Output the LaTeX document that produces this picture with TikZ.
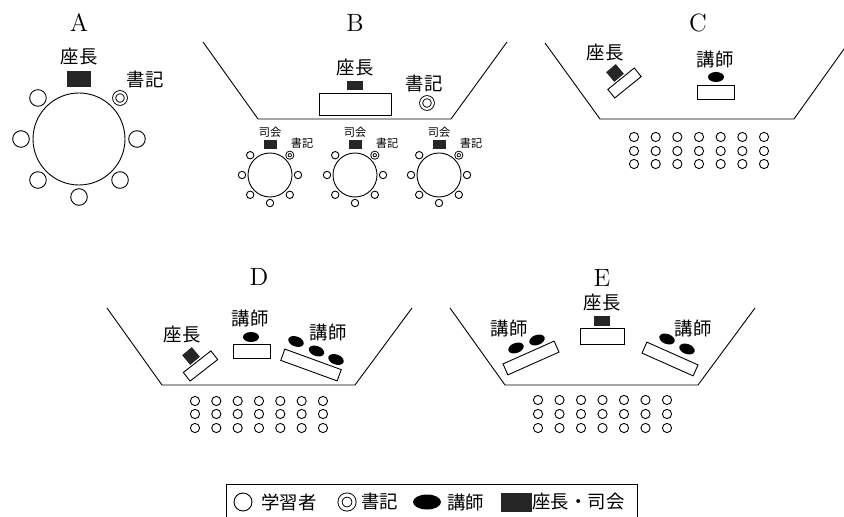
\documentclass[tikz,border=0pt]{standalone}
\usepackage{fontspec}
\newfontfamily\jp{Noto Sans CJK JP}
\usepackage{tikz}
\usetikzlibrary{shapes.geometric}
\usetikzlibrary{positioning}
\usetikzlibrary{calc}

\tikzset{
    seat/.style={circle, draw, inner sep=0pt, minimum size=8.3pt},
    sseat/.style={circle, draw, inner sep=0pt, minimum size=3.7pt},
    hseat/.style={circle, draw, inner sep=0pt, minimum size=4.6pt},
    clerk/.style={circle, draw, double, double distance=1.1pt, inner sep=0pt, minimum size=5.8pt},
    sclerk/.style={circle, draw, double, double distance=0.6pt, inner sep=0pt, minimum size=2.9pt},
    chair/.style={fill=black!85, inner sep=0pt},
    desk/.style={draw, fill=white, inner sep=0pt},
    lect/.style={ellipse, fill=black, inner sep=0pt, minimum width=8pt, minimum height=5pt},
    lbl/.style={inner sep=0pt, font=\jp\fontsize{9.2}{10}\selectfont},
    slbl/.style={inner sep=0pt, font=\jp\fontsize{5.6}{6}\selectfont},
    ttl/.style={inner sep=0pt, font=\fontsize{12.5}{14}\selectfont},
}

\begin{document}
\begin{tikzpicture}[x=0.5pt, y=-0.5pt, line width=0.45pt]
    \useasboundingbox (0,0) rectangle (844,517);
    \clip (0,0) rectangle (844,517);

    % A
    \node[ttl] (tA) at (79,23) {A};
    \node[circle, draw, inner sep=0pt, minimum size=46pt] (tabA) at (79,139) {};
    \node[lbl] (chairA-l) at (79,57) {座長};
    \node[chair, minimum width=12pt, minimum height=8pt] (chairA) at (79,79) {};
    \node[lbl] (clerkA-l) at (145,80) {書記};
    % angles measured clockwise, since y points down
    \foreach \a in {0,45,90,135,180,225}
        \node[seat] at ($(tabA)+(\a:58)$) {};
    \node[clerk] (clerkA) at ($(tabA)+(315:58)$) {};

    % B
    \node[ttl] (tB) at (355,23) {B};
    \draw (203,42) -- (258,119) -- (451,119) -- (507,42);
    \node[lbl] (chairB-l) at (355,68) {座長};
    \node[chair, minimum width=8pt, minimum height=4.5pt] (chairB) at (355,85.5) {};
    \node[desk, minimum width=36pt, minimum height=11pt] (deskB) at (355,104) {};
    \node[lbl] (clerkB-l) at (424,84) {書記};
    \node[clerk] (clerkB) at (427,103) {};
    \foreach \x [count=\i] in {270,355,439} {
        \node[circle, draw, inner sep=0pt, minimum size=22pt] (tabB\i) at (\x,175) {};
        \node[slbl] at (\x,132) {司会};
        \node[chair, minimum width=6.5pt, minimum height=4.5pt] at (\x+0.5,144.5) {};
        \node[slbl] at (\x+32,143) {書記};
        \foreach \a in {0,45,90,135,180,225}
            \node[sseat] at ($(tabB\i)+(\a:28)$) {};
        \node[sclerk] at ($(tabB\i)+(315:28)$) {};
    }

    % C
    \node[ttl] (tC) at (698,23) {C};
    \draw (545,43) -- (600,119) -- (794,119) -- (849,42);
    \node[lbl] (chairC-l) at (605,53) {座長};
    \node[chair, minimum size=6.3pt, rotate=40] (chairC) at (615,73) {};
    \node[desk, minimum width=17pt, minimum height=5.5pt, rotate=39] (deskC1) at (624.5,83) {};
    \node[lbl] (lectC-l) at (715,60) {講師};
    \node[lect] (lectC) at (716,77) {};
    \node[desk, minimum width=18.5pt, minimum height=7pt] (deskC2) at (715.5,92) {};
    \foreach \i in {0,...,6}
        \foreach \y in {137,151,164}
            \node[hseat] at (634+21.67*\i,\y) {};

    % D
    \node[ttl] (tD) at (259,277) {D};
    \draw (107,308) -- (162,385) -- (355,385) -- (412,308);
    \node[lbl] (chairD-l) at (182,335) {座長};
    \node[chair, minimum size=6.3pt, rotate=40] (chairD) at (191,356) {};
    \node[desk, minimum width=17.5pt, minimum height=5.5pt, rotate=38] (deskD1) at (200.5,366) {};
    \node[lbl] (lectD-l) at (250,318) {講師};
    \node[lect] (lectD) at (251,337) {};
    \node[desk, minimum width=18.5pt, minimum height=7pt] (deskD2) at (251.5,351) {};
    \node[lbl] (lectD2-l) at (328,332) {講師};
    \node[desk, minimum width=30pt, minimum height=6pt, rotate=-20] (deskD3) at (311,365) {};
    \foreach \x/\y in {296/341.5, 316.5/351, 336/359.5}
        \node[lect, rotate=-20] at (\x,\y) {};
    \foreach \i in {0,...,6}
        \foreach \y in {401,414,428}
            \node[hseat] at (195+21.33*\i,\y) {};

    % E
    \node[ttl] (tE) at (602,278) {E};
    \draw (450,308) -- (505,385) -- (698,385) -- (755,308);
    \node[lbl] (chairE-l) at (602,303) {座長};
    \node[chair, minimum width=8pt, minimum height=5pt] (chairE) at (602,321) {};
    \node[desk, minimum width=22pt, minimum height=8pt] (deskE) at (602,336) {};
    \node[lbl] (lectE1-l) at (509,328) {講師};
    \node[desk, minimum width=28pt, minimum height=6pt, rotate=24] (deskE1) at (531,358) {};
    \foreach \x/\y in {516/348, 537/340}
        \node[lect, rotate=20] at (\x,\y) {};
    \node[lbl] (lectE2-l) at (693,328) {講師};
    \node[desk, minimum width=28pt, minimum height=6pt, rotate=-24] (deskE2) at (670,359) {};
    \foreach \x/\y in {667/339, 687/349}
        \node[lect, rotate=-20] at (\x,\y) {};
    \foreach \i in {0,...,6}
        \foreach \y in {400,414,428}
            \node[hseat] at (538+21.5*\i,\y) {};

    % legend
    \draw (226,530) -- (226,484) -- (637,484) -- (637,530);
    \node[seat, minimum size=9pt] (kS) at (243,502) {};
    \node[lbl, anchor=west] (kS-l) at (261,502) {学習者};
    \node[clerk, minimum size=7pt, double distance=1.6pt] (kC) at (347,502) {};
    \node[lbl, anchor=west] (kC-l) at (361,502) {書記};
    \node[lect, minimum width=14pt, minimum height=7.5pt] (kL) at (427,502) {};
    \node[lbl, anchor=west] (kL-l) at (447,502) {講師};
    \node[chair, minimum width=15.5pt, minimum height=9.5pt] (kH) at (516.5,502.5) {};
    \node[lbl, anchor=west] (kH-l) at (532,502) {座長・司会};
\end{tikzpicture}
\end{document}
